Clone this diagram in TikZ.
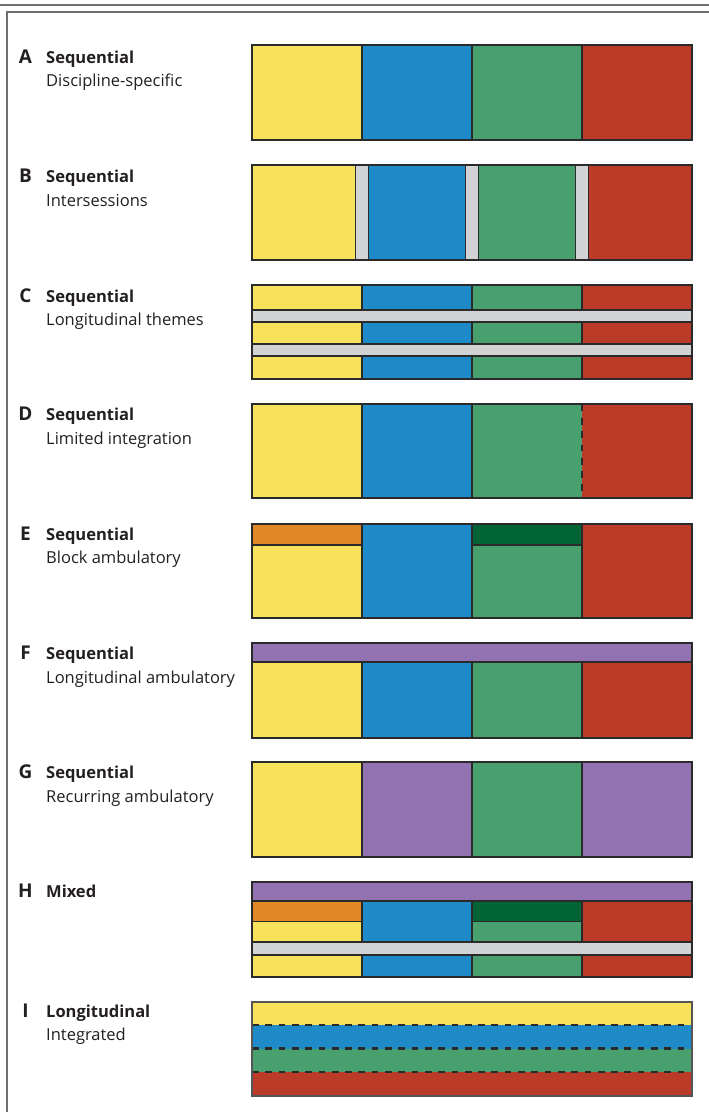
\documentclass[tikz,border=0pt]{standalone}
\usepackage{fontspec}
\setmainfont{Open Sans}
\definecolor{yel}{HTML}{F8E15B}
\definecolor{blu}{HTML}{1E8AC8}
\definecolor{grn}{HTML}{48A06E}
\definecolor{red}{HTML}{BA3B28}
\definecolor{gry}{HTML}{D1D3D4}
\definecolor{org}{HTML}{E08826}
\definecolor{dgr}{HTML}{006434}
\definecolor{pur}{HTML}{9372B1}
\definecolor{edge}{HTML}{2A2A2A}
\definecolor{framec}{HTML}{6E6E6E}
\definecolor{txt}{HTML}{231F20}
\tikzset{
  cell/.style={draw=edge, line width=1.2pt},
  dline/.style={draw=edge, line width=2.4pt, dash pattern=on 6.7pt off 6.6pt},
  letter/.style={anchor=base, font=\fontsize{19}{20}\selectfont\bfseries, text=txt, inner sep=0pt},
  ttl/.style={anchor=base west, font=\fontsize{16.5}{18}\selectfont\bfseries, text=txt, inner sep=0pt},
  sub/.style={anchor=base west, font=\fontsize{16.5}{18}\selectfont, text=txt, inner sep=0pt},
  framel/.style={draw=framec, line width=2pt}
}
\begin{document}
\begin{tikzpicture}[x=1pt,y=-1pt]
\useasboundingbox (0,0) rectangle (709,1112);
% frame
\draw[framel] (0,4.5) -- (709,4.5);
\draw[framel] (6.5,1112) -- (6.5,11.5) -- (709,11.5);

% labels
\node[letter] (la) at (25.5,63) {A};
\node[ttl] (ta) at (46,63) {Sequential};
\node[sub] (sa) at (46,86) {Discipline-specific};
\node[letter] (lb) at (25.5,182) {B};
\node[ttl] (tb) at (46,182) {Sequential};
\node[sub] (sb) at (46,206) {Intersessions};
\node[letter] (lc) at (25.5,302) {C};
\node[ttl] (tc) at (46,302) {Sequential};
\node[sub] (sc) at (46,325) {Longitudinal themes};
\node[letter] (ld) at (25.5,420) {D};
\node[ttl] (td) at (46,420) {Sequential};
\node[sub] (sd) at (46,444) {Limited integration};
\node[letter] (le) at (25.5,540) {E};
\node[ttl] (te) at (46,540) {Sequential};
\node[sub] (se) at (46,563) {Block ambulatory};
\node[letter] (lf) at (25.5,659) {F};
\node[ttl] (tf) at (46,659) {Sequential};
\node[sub] (sf) at (46,683) {Longitudinal ambulatory};
\node[letter] (lg) at (25.5,778) {G};
\node[ttl] (tg) at (46,778) {Sequential};
\node[sub] (sg) at (46,802) {Recurring ambulatory};
\node[letter] (lh) at (25.5,897) {H};
\node[ttl] (th) at (46,897) {Mixed};
\node[letter] (li) at (25.5,1017) {I};
\node[ttl] (ti) at (46,1017) {Longitudinal};
\node[sub] (si) at (46,1040.5) {Integrated};

% A
\path[cell, fill=yel] (252,45) rectangle (362,140);
\path[cell, fill=blu] (362,45) rectangle (472,140);
\path[cell, fill=grn] (472,45) rectangle (582,140);
\path[cell, fill=red] (582,45) rectangle (692,140);

% B
\path[cell, fill=yel] (252,165) rectangle (355.5,260);
\path[cell, fill=gry] (355.5,165) rectangle (368.5,260);
\path[cell, fill=blu] (368.5,165) rectangle (465.5,260);
\path[cell, fill=gry] (465.5,165) rectangle (478.5,260);
\path[cell, fill=grn] (478.5,165) rectangle (575.5,260);
\path[cell, fill=gry] (575.5,165) rectangle (588.5,260);
\path[cell, fill=red] (588.5,165) rectangle (692,260);

% C
\path[cell, fill=yel] (252,285) rectangle (362,379);
\path[cell, fill=blu] (362,285) rectangle (472,379);
\path[cell, fill=grn] (472,285) rectangle (582,379);
\path[cell, fill=red] (582,285) rectangle (692,379);
\path[cell, fill=gry] (252,310) rectangle (692,322);
\path[cell, fill=gry] (252,344) rectangle (692,356);

% D
\fill[yel] (252,404) rectangle (362,498);
\fill[blu] (362,404) rectangle (472,498);
\fill[grn] (472,404) rectangle (582,498);
\fill[red] (582,404) rectangle (692,498);
\draw[edge, line width=1.2pt] (362,404) -- (362,498) (472,404) -- (472,498);
\draw[dline] (582,404.6) -- (582,498);
\draw[cell] (252,404) rectangle (692,498);

% E
\path[cell, fill=yel] (252,524) rectangle (362,618);
\path[cell, fill=org] (252,524) rectangle (362,545);
\path[cell, fill=blu] (362,524) rectangle (472,618);
\path[cell, fill=grn] (472,524) rectangle (582,618);
\path[cell, fill=dgr] (472,524) rectangle (582,545);
\path[cell, fill=red] (582,524) rectangle (692,618);

% F
\path[cell, fill=yel] (252,662) rectangle (362,738);
\path[cell, fill=blu] (362,662) rectangle (472,738);
\path[cell, fill=grn] (472,662) rectangle (582,738);
\path[cell, fill=red] (582,662) rectangle (692,738);
\path[cell, fill=pur] (252,643) rectangle (692,662);

% G
\path[cell, fill=yel] (252,762) rectangle (362,857);
\path[cell, fill=pur] (362,762) rectangle (472,857);
\path[cell, fill=grn] (472,762) rectangle (582,857);
\path[cell, fill=pur] (582,762) rectangle (692,857);

% H
\path[cell, fill=pur] (252,882) rectangle (692,901);
\path[cell, fill=org] (252,901) rectangle (362,921.5);
\path[cell, fill=yel] (252,921.5) rectangle (362,942);
\path[cell, fill=blu] (362,901) rectangle (472,942);
\path[cell, fill=dgr] (472,901) rectangle (582,921.5);
\path[cell, fill=grn] (472,921.5) rectangle (582,942);
\path[cell, fill=red] (582,901) rectangle (692,942);
\path[cell, fill=gry] (252,942) rectangle (692,955);
\path[cell, fill=yel] (252,955) rectangle (362,977);
\path[cell, fill=blu] (362,955) rectangle (472,977);
\path[cell, fill=grn] (472,955) rectangle (582,977);
\path[cell, fill=red] (582,955) rectangle (692,977);

% I
\fill[yel] (252,1002) rectangle (692,1025);
\fill[blu] (252,1025) rectangle (692,1048.5);
\fill[grn] (252,1048.5) rectangle (692,1072);
\fill[red] (252,1072) rectangle (692,1096);
\draw[dline] (252,1025) -- (692,1025);
\draw[dline] (252,1048.5) -- (692,1048.5);
\draw[dline] (252,1072) -- (692,1072);
\draw[cell, draw=edge!80] (252,1002) rectangle (692,1096);
\end{tikzpicture}
\end{document}
